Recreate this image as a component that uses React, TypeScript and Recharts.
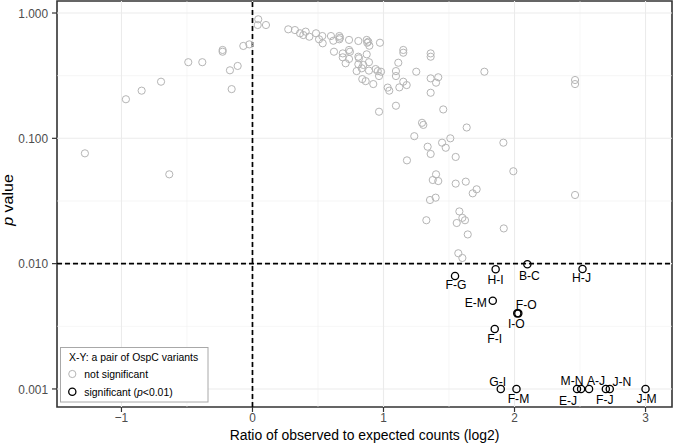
import React from 'react';
import { ScatterChart, Scatter, XAxis, YAxis, ReferenceLine, ReferenceArea } from 'recharts';

// ---- Data ----
const nsRatio = [
  -1.279, -0.966, -0.846, -0.698, -0.635, -0.49, -0.383, -0.228, -0.228, -0.172,
  -0.113, -0.159, -0.07, -0.024, 0.044, 0.04, 0.103, 0.273, 0.324, 0.363,
  0.388, 0.406, 0.434, 0.485, 0.508, 0.533, 0.536, 0.599, 0.617, 0.663,
  0.668, 0.663, 0.737, 0.808, 0.872, 0.876, 0.892, 0.884, 0.973, 0.622,
  0.689, 0.689, 0.737, 0.744, 0.737, 0.711, 0.808, 0.813, 0.808, 0.846,
  0.834, 0.795, 0.872, 0.889, 0.889, 0.94, 0.956, 0.981, 0.966, 0.838,
  0.864, 0.922, 0.966, 1.032, 1.044, 1.095, 1.121, 1.177, 1.095, 1.095,
  1.113, 1.151, 1.151, 1.151, 1.25, 1.36, 1.36, 1.36, 1.418, 1.401,
  1.36, 1.456, 1.77, 1.294, 1.304, 1.235, 1.635, 1.51, 1.337, 1.36,
  1.447, 1.475, 1.551, 1.179, 1.401, 1.376, 1.418, 1.551, 1.628, 1.711,
  1.681, 1.398, 1.355, 1.327, 1.579, 1.602, 1.559, 1.622, 1.643, 1.571,
  1.602, 1.918, 1.915, 1.991, 2.462, 2.462, 2.462,
];
const nsP = [
  0.0759, 0.205, 0.24, 0.283, 0.0516, 0.405, 0.405, 0.507, 0.491, 0.349,
  0.378, 0.247, 0.546, 0.562, 0.891, 0.802, 0.802, 0.741, 0.731, 0.689,
  0.667, 0.71, 0.647, 0.689, 0.617, 0.655, 0.573, 0.655, 0.601, 0.655,
  0.635, 0.617, 0.61, 0.598, 0.61, 0.579, 0.548, 0.59, 0.579, 0.491,
  0.476, 0.443, 0.507, 0.491, 0.43, 0.397, 0.448, 0.435, 0.39, 0.385,
  0.362, 0.344, 0.468, 0.405, 0.347, 0.357, 0.344, 0.34, 0.314, 0.297,
  0.286, 0.271, 0.163, 0.254, 0.24, 0.182, 0.255, 0.266, 0.344, 0.314,
  0.401, 0.507, 0.482, 0.283, 0.34, 0.476, 0.448, 0.301, 0.307, 0.278,
  0.231, 0.17, 0.34, 0.133, 0.128, 0.104, 0.122, 0.1, 0.0857, 0.075,
  0.0923, 0.0841, 0.071, 0.0667, 0.0516, 0.0465, 0.0456, 0.0435, 0.0451, 0.0392,
  0.0364, 0.0336, 0.0322, 0.0222, 0.0261, 0.0232, 0.0211, 0.0222, 0.0171, 0.0121,
  0.0111, 0.0191, 0.0923, 0.0546, 0.0353, 0.292, 0.271,
];

const sigLabels = ['F-G', 'H-I', 'B-C', 'H-J', 'E-M', 'F-O', 'I-O', 'F-I', 'G-I', 'F-M', 'M-N', 'E-J', 'A-J', 'J-N', 'F-J', 'J-M'];
const sigRatio = [1.546, 1.856, 2.098, 2.519, 1.834, 2.021, 2.029, 1.849, 1.895, 2.015, 2.477, 2.508, 2.569, 2.697, 2.727, 3.0];
const sigP = [0.00796, 0.00901, 0.0099, 0.00906, 0.00506, 0.00401, 0.00401, 0.00301, 0.001, 0.001, 0.001, 0.001, 0.001, 0.001, 0.001, 0.001];

const xMajorTicks = [-1, 0, 1, 2, 3];
const xMinorTicks = [-0.5, 0.5, 1.5, 2.5];
const yMajorTicks = [1, 0.1, 0.01, 0.001];
const yMinorTicks = [0.3162, 0.03162, 0.003162];
const pThreshold = 0.01;
const xTitle = 'Ratio of observed to expected counts (log2)';
const legendTitle = 'X-Y: a pair of OspC variants';
const legendNs = 'not significant';

// ---- Layout / style (not data) ----
const labelOffsets: Record<string, [number, number]> = {
  'F-G': [1, 8], 'H-I': [0, 10], 'B-C': [2, 11], 'H-J': [-1, 8],
  'E-M': [-17, 1], 'F-O': [9, -9], 'I-O': [-2, 10], 'F-I': [0, 9],
  'G-I': [-3, -8], 'F-M': [2, 9], 'M-N': [-5, -9], 'E-J': [-13, 11],
  'A-J': [7, -9], 'J-N': [16, -8], 'F-J': [-5, 10], 'J-M': [1, 9],
};
const FONT = "'Liberation Sans', Arial, Helvetica, sans-serif";
const SX = 0.9;
const X_DOMAIN: [number, number] = [-1.492, 3.202];
const Y_DOMAIN: [number, number] = [-3.144, 0.0958];

const nsData = nsRatio.map((x, i) => ({ x, ly: Math.log10(nsP[i]) }));
const sigData = sigRatio.map((x, i) => ({ x, ly: Math.log10(sigP[i]), label: sigLabels[i] }));

const fmtX = (v: number) => (v < 0 ? '\u2212' + Math.abs(v) : String(v));
const fmtY = (v: number) => Math.pow(10, v).toFixed(3);

const NsShape = (props: any) => {
  const { cx, cy } = props;
  return <circle cx={cx} cy={cy} r={3.6} fill="none" stroke="#b5b5b5" strokeWidth={1} />;
};

const SigShape = (props: any) => {
  const { cx, cy, payload } = props;
  const off = labelOffsets[payload.label] || [0, 10];
  return (
    <g>
      <circle cx={cx} cy={cy} r={3.6} fill="none" stroke="#000" strokeWidth={1.3} />
      <text
        transform={`translate(${cx + off[0]},${cy + off[1]}) scale(${SX},1)`}
        textAnchor="middle"
        dy="0.36em"
        fontSize={13.5}
        fontFamily={FONT}
        fill="#000"
      >
        {payload.label}
      </text>
    </g>
  );
};

const XTick = (props: any) => {
  const { x, y, payload } = props;
  return (
    <text transform={`translate(${x},${y}) scale(${SX},1)`} textAnchor="middle" dy="0.71em" fontSize={13.2} fontFamily={FONT} fill="#4d4d4d">
      {fmtX(payload.value)}
    </text>
  );
};

const YTick = (props: any) => {
  const { x, y, payload } = props;
  return (
    <text transform={`translate(${x},${y}) scale(${SX},1)`} textAnchor="end" dy="0.36em" fontSize={13.2} fontFamily={FONT} fill="#4d4d4d">
      {fmtY(payload.value)}
    </text>
  );
};

const XTitle = (props: any) => {
  const vb = props.viewBox || { x: 57, y: 407, width: 615, height: 37 };
  const cx = vb.x + vb.width / 2;
  const cy = vb.y + 33;
  return (
    <text transform={`translate(${cx},${cy}) scale(${SX},1)`} textAnchor="middle" fontSize={15.5} fontFamily={FONT} fill="#000">
      {xTitle}
    </text>
  );
};

const YTitle = (props: any) => {
  const vb = props.viewBox || { x: 0, y: 1, width: 57, height: 406 };
  const cy = vb.y + vb.height / 2 - 4;
  return (
    <text transform={`translate(12.5,${cy}) scale(${SX},1) rotate(-90)`} textAnchor="middle" fontSize={16} fontFamily={FONT} fill="#000">
      <tspan fontStyle="italic">p</tspan>
      <tspan> value</tspan>
    </text>
  );
};

export default function App() {
  return (
    <div style={{ position: 'absolute', left: 0, top: 0, width: 674, height: 444, background: '#fff' }}>
      <ScatterChart width={674} height={444} margin={{ top: 1, right: 2, bottom: 0, left: 0 }}>
        <XAxis
          type="number"
          dataKey="x"
          domain={X_DOMAIN}
          ticks={xMajorTicks}
          allowDataOverflow
          axisLine={false}
          tickLine={{ stroke: '#333', strokeWidth: 1.2 }}
          tickSize={5}
          tickMargin={1}
          height={37}
          tick={<XTick />}
          label={{ content: <XTitle /> } as any}
        />
        <YAxis
          type="number"
          dataKey="ly"
          domain={Y_DOMAIN}
          ticks={yMajorTicks.map((v) => Math.log10(v))}
          allowDataOverflow
          axisLine={false}
          tickLine={{ stroke: '#333', strokeWidth: 1.2 }}
          tickSize={5}
          tickMargin={4}
          width={57}
          tick={<YTick />}
          label={{ content: <YTitle /> } as any}
        />
        {xMinorTicks.map((v) => (
          <ReferenceLine key={'xm' + v} x={v} stroke="#f0f0f0" strokeWidth={0.6} />
        ))}
        {yMinorTicks.map((v) => (
          <ReferenceLine key={'ym' + v} y={Math.log10(v)} stroke="#f0f0f0" strokeWidth={0.6} />
        ))}
        {xMajorTicks.map((v) => (
          <ReferenceLine key={'xM' + v} x={v} stroke="#ebebeb" strokeWidth={1.1} />
        ))}
        {yMajorTicks.map((v) => (
          <ReferenceLine key={'yM' + v} y={Math.log10(v)} stroke="#ebebeb" strokeWidth={1.1} />
        ))}
        <ReferenceLine x={0} stroke="#000" strokeWidth={1.7} strokeDasharray="5 3" />
        <ReferenceLine y={Math.log10(pThreshold)} stroke="#000" strokeWidth={1.7} strokeDasharray="5 3" />
        <Scatter data={nsData} shape={<NsShape />} isAnimationActive={false} />
        <Scatter data={sigData} shape={<SigShape />} isAnimationActive={false} />
        <ReferenceArea
          x1={X_DOMAIN[0]}
          x2={X_DOMAIN[1]}
          y1={Y_DOMAIN[0]}
          y2={Y_DOMAIN[1]}
          fill="none"
          fillOpacity={0}
          stroke="#333"
          strokeWidth={1.6}
        />
      </ScatterChart>
      <svg width={674} height={444} style={{ position: 'absolute', left: 0, top: 0, pointerEvents: 'none' }}>
        <rect x={60.5} y={347.5} width={147.5} height={54.5} fill="#fff" stroke="#a8a8a8" strokeWidth={1} />
        <text transform={`translate(69,361) scale(${SX},1)`} fontSize={11.6} fontFamily={FONT} fill="#000">
          {legendTitle}
        </text>
        <circle cx={72.3} cy={374} r={3.6} fill="none" stroke="#b5b5b5" strokeWidth={1} />
        <text transform={`translate(84.3,378.2) scale(${SX},1)`} fontSize={11.6} fontFamily={FONT} fill="#000">
          {legendNs}
        </text>
        <circle cx={72.3} cy={391.7} r={3.6} fill="none" stroke="#000" strokeWidth={1.3} />
        <text transform={`translate(84.3,395.9) scale(${SX},1)`} fontSize={11.6} fontFamily={FONT} fill="#000">
          significant (<tspan fontStyle="italic">p</tspan>&lt;0.01)
        </text>
      </svg>
    </div>
  );
}
